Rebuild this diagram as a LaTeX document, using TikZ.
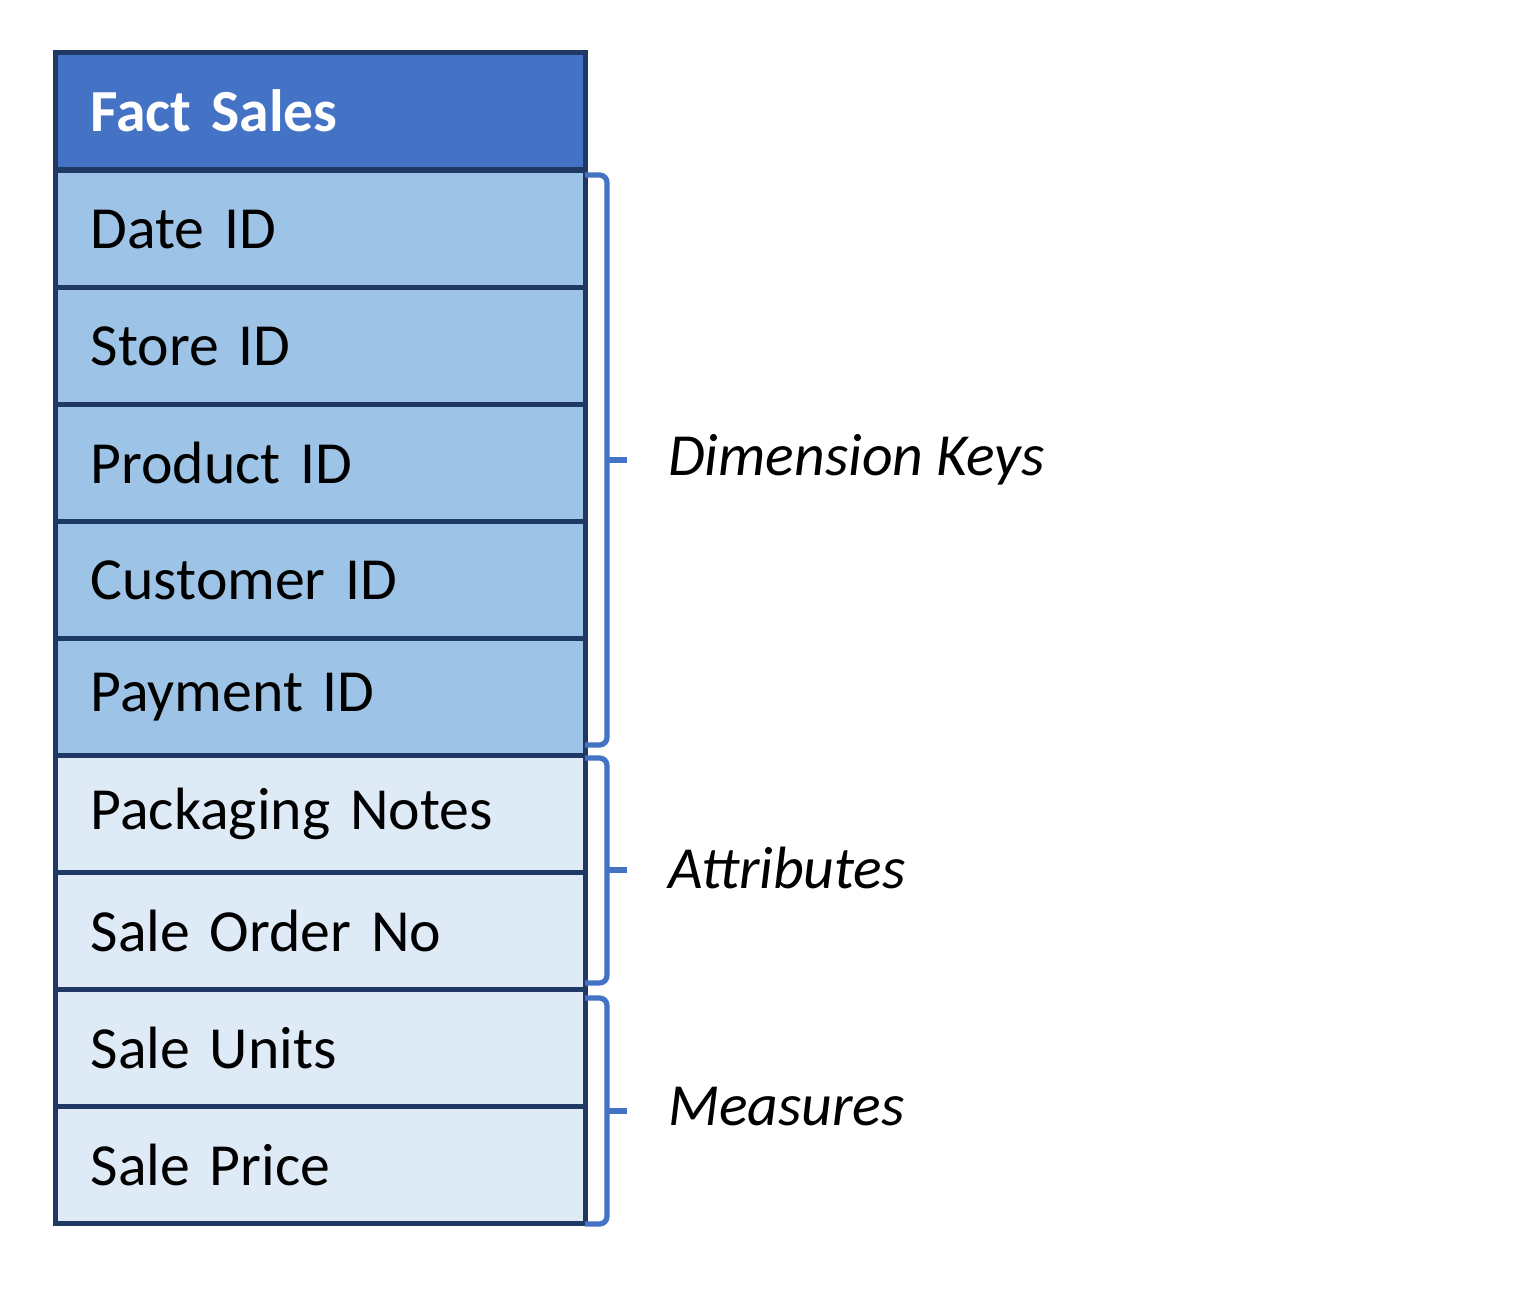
\documentclass[tikz,border=0pt]{standalone}
\usepackage{fontspec}
\setmainfont{Carlito}
\definecolor{edge}{HTML}{1F3864}
\definecolor{head}{HTML}{4472C4}
\definecolor{keyfill}{HTML}{9DC3E6}
\definecolor{attfill}{HTML}{DEEBF7}
\tikzset{
  cell/.style={draw=edge, line width=3pt, anchor=north west, minimum width=10.06cm,
    minimum height=2.34cm, text width=9.2cm, inner xsep=0.7cm, align=left,
    font=\fontsize{34}{40}\selectfont},
  brace/.style={draw=head, line width=3pt, rounded corners=0.15cm},
  label/.style={anchor=west, font=\fontsize{34}{40}\selectfont\itshape}
}
\begin{document}
\begin{tikzpicture}[x=0.02cm, y=-0.02cm]
      \useasboundingbox (0,0) rectangle (1518,1291);
      % TABLE
      \node[cell, fill=head, text=white, font=\fontsize{34}{40}\selectfont\bfseries] (title) at (53,50) {Fact Sales};
      \node[cell, fill=keyfill] (date) at (53,168) {Date ID};
      \node[cell, fill=keyfill] (store) at (53,285) {Store ID};
      \node[cell, fill=keyfill] (product) at (53,402) {Product ID};
      \node[cell, fill=keyfill] (customer) at (53,519) {Customer ID};
      \node[cell, fill=keyfill] (payment) at (53,636) {Payment ID};
      \node[cell, fill=attfill] (packaging) at (53,753) {Packaging Notes};
      \node[cell, fill=attfill] (order) at (53,870) {Sale Order No};
      \node[cell, fill=attfill] (units) at (53,987) {Sale Units};
      \node[cell, fill=attfill] (price) at (53,1104) {Sale Price};
      % BRACES
      \draw[brace] (585,175) -- (607,175) -- (607,745) -- (585,745);
      \draw[brace] (607,460) -- (627,460);
      \node[label] (keys) at (662,460) {Dimension Keys};
      \draw[brace] (585,758) -- (607,758) -- (607,983) -- (585,983);
      \draw[brace] (607,870) -- (627,870);
      \node[label] (attr) at (662,868) {Attributes};
      \draw[brace] (585,998) -- (607,998) -- (607,1224) -- (585,1224);
      \draw[brace] (607,1111) -- (627,1111);
      \node[label] (meas) at (662,1107) {Measures};
    \end{tikzpicture}
\end{document}
